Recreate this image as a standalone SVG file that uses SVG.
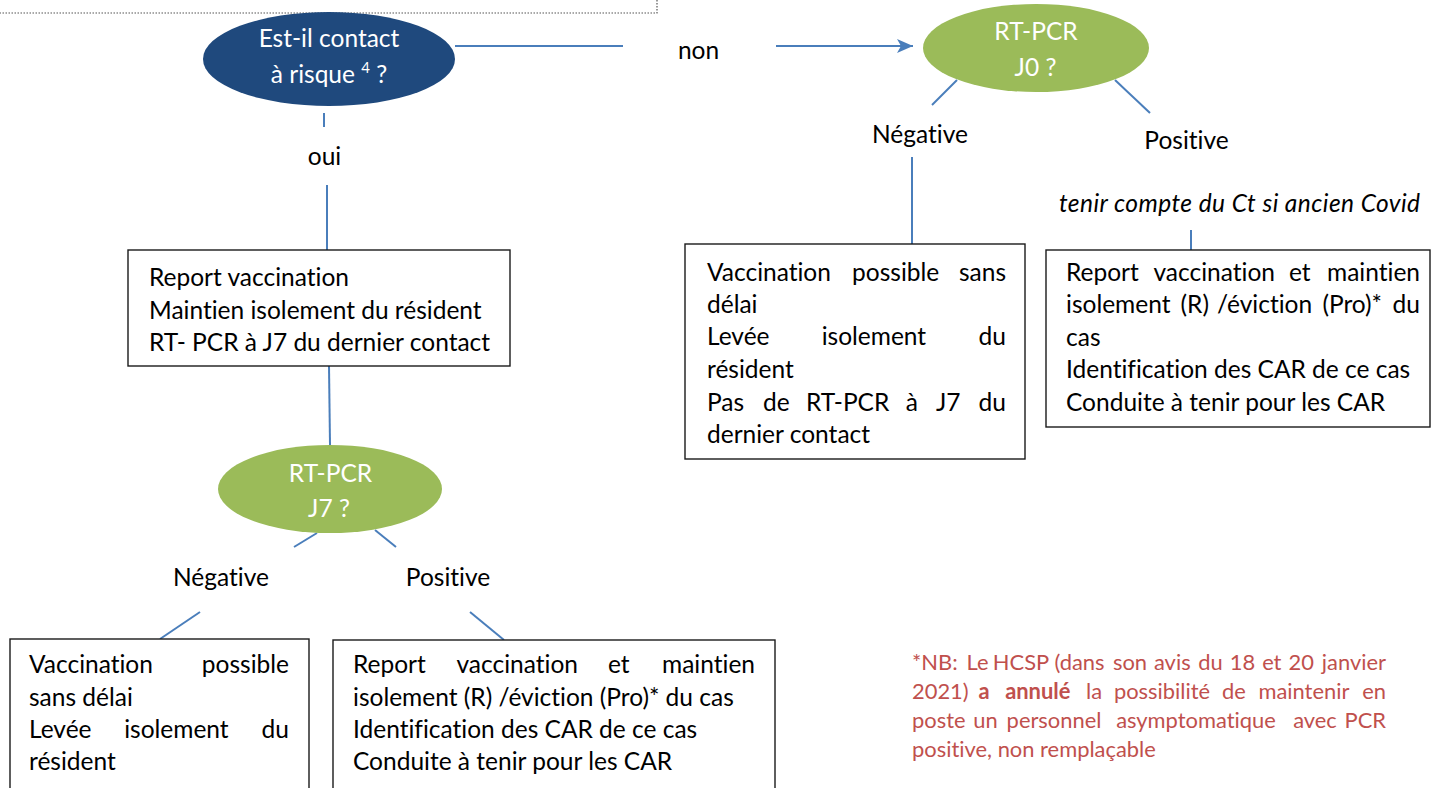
<svg xmlns="http://www.w3.org/2000/svg" width="1431" height="788" viewBox="0 0 1431 788">
<style>
.t{font-family:Lato,"Liberation Sans",sans-serif;font-size:24.5px;fill:#000;font-variant-ligatures:none}
.w{font-family:Lato,"Liberation Sans",sans-serif;font-size:24.5px;fill:#fff;text-anchor:middle}
.c{text-anchor:middle}
.m{text-anchor:middle}
.e{text-anchor:end}
.it{font-style:italic}
.box{fill:#fff;stroke:#1a1a1a;stroke-width:1.4}
.ln{stroke:#4a7ebb;stroke-width:2;fill:none}
.note{font-family:Lato,"Liberation Sans",sans-serif;font-size:21.9px;fill:#c0504d;font-variant-ligatures:none}
.b{font-weight:bold}
</style>
<defs>
<marker id="arr" markerUnits="userSpaceOnUse" markerWidth="18" markerHeight="16" refX="16" refY="7" orient="auto">
<path d="M0,0 L16,7 L0,14 L4,7 Z" fill="#4a7ebb"/>
</marker>
</defs>
<rect width="1431" height="788" fill="#fff"/>

<g id="topframe">
<rect x="-5" y="-40" width="662" height="53" fill="none" stroke="#555" stroke-width="1.2" stroke-dasharray="1.5,1.5"/>
</g>

<g id="connectors">
<line class="ln" x1="455" y1="46" x2="623" y2="46"/>
<line class="ln" x1="776" y1="46" x2="913" y2="46" marker-end="url(#arr)"/>
<line class="ln" x1="324" y1="113" x2="324" y2="127"/>
<line class="ln" x1="327" y1="185" x2="327" y2="250"/>
<line class="ln" x1="329" y1="366" x2="330" y2="445"/>
<line class="ln" x1="317" y1="533" x2="294" y2="547"/>
<line class="ln" x1="375" y1="530" x2="396" y2="547"/>
<line class="ln" x1="200" y1="612" x2="160" y2="639"/>
<line class="ln" x1="470" y1="612" x2="504" y2="640"/>
<line class="ln" x1="957" y1="80" x2="932" y2="105"/>
<line class="ln" x1="1115" y1="80" x2="1150" y2="113"/>
<line class="ln" x1="912" y1="157" x2="912" y2="244"/>
<line class="ln" x1="1191" y1="230" x2="1191" y2="250"/>
</g>

<g id="labels">
<text class="t c" x="324.5" y="165">oui</text>
<text class="t c" x="698.5" y="59">non</text>
<text class="t c" x="920" y="143">Négative</text>
<text class="t c" x="1186.5" y="149">Positive</text>
<text class="t it" x="1059" y="212" textLength="361" lengthAdjust="spacing">tenir compte du Ct si ancien Covid</text>
<text class="t c" x="221" y="586">Négative</text>
<text class="t c" x="448" y="586">Positive</text>
</g>

<g id="q-contact">
<ellipse cx="329" cy="59" rx="126" ry="47" fill="#1f497d"/>
<text class="w" x="329" y="47">Est-il contact</text>
<text class="w" x="329" y="83">à risque <tspan font-size="15" dy="-10">4</tspan><tspan dy="10"> ?</tspan></text>
</g>

<g id="q-j0">
<ellipse cx="1036" cy="48" rx="113" ry="44" fill="#9bbb59"/>
<text class="w" x="1036" y="40">RT-PCR</text>
<text class="w" x="1035.5" y="76">J0 ?</text>
</g>

<g id="q-j7">
<ellipse cx="330" cy="489" rx="112" ry="44" fill="#9bbb59"/>
<text class="w" x="330.5" y="482">RT-PCR</text>
<text class="w" x="329" y="517">J7 ?</text>
</g>

<g id="box-report">
<rect class="box" x="128" y="250" width="382" height="116"/>
<text class="t" x="149" y="286">Report vaccination</text>
<text class="t" x="149" y="319">Maintien isolement du résident</text>
<text class="t" x="149" y="351">RT- PCR à J7 du dernier contact</text>
</g>

<g id="box-j0-neg">
<rect class="box" x="685" y="244" width="340" height="215"/>
<text class="t" y="281"><tspan x="707">Vaccination</tspan><tspan class="m" x="895.7">possible</tspan><tspan class="e" x="1006">sans</tspan></text>
<text class="t" x="707" y="313">délai</text>
<text class="t" y="345"><tspan x="707">Levée</tspan><tspan class="m" x="873.9">isolement</tspan><tspan class="e" x="1006">du</tspan></text>
<text class="t" x="707" y="378">résident</text>
<text class="t" y="411"><tspan x="707">Pas</tspan><tspan class="m" x="776.4">de</tspan><tspan class="m" x="847.7">RT-PCR</tspan><tspan class="m" x="911.9">à</tspan><tspan class="m" x="948.2">J7</tspan><tspan class="e" x="1006">du</tspan></text>
<text class="t" x="707" y="443">dernier contact</text>
</g>

<g id="box-j0-pos">
<rect class="box" x="1046" y="250" width="384" height="177"/>
<text class="t" y="281"><tspan x="1066">Report</tspan><tspan class="m" x="1214.2">vaccination</tspan><tspan class="m" x="1299.8">et</tspan><tspan class="e" x="1420">maintien</tspan></text>
<text class="t" y="313"><tspan x="1066">isolement</tspan><tspan class="m" x="1194.8">(R)</tspan><tspan class="m" x="1264.6">/éviction</tspan><tspan class="m" x="1352.2">(Pro)*</tspan><tspan class="e" x="1420">du</tspan></text>
<text class="t" x="1066" y="346">cas</text>
<text class="t" x="1066" y="378">Identification des CAR de ce cas</text>
<text class="t" x="1066" y="411">Conduite à tenir pour les CAR</text>
</g>

<g id="box-j7-neg">
<rect class="box" x="10" y="639" width="299" height="170"/>
<text class="t" y="673"><tspan x="29">Vaccination</tspan><tspan class="e" x="289">possible</tspan></text>
<text class="t" x="29" y="706">sans délai</text>
<text class="t" y="738"><tspan x="29">Levée</tspan><tspan class="m" x="176.4">isolement</tspan><tspan class="e" x="289">du</tspan></text>
<text class="t" x="29" y="770">résident</text>
</g>

<g id="box-j7-pos">
<rect class="box" x="333" y="640" width="442" height="170"/>
<text class="t" y="673"><tspan x="353">Report</tspan><tspan class="m" x="517.2">vaccination</tspan><tspan class="m" x="618.8">et</tspan><tspan class="e" x="755">maintien</tspan></text>
<text class="t" x="353" y="706">isolement (R) /éviction (Pro)* du cas</text>
<text class="t" x="353" y="738">Identification des CAR de ce cas</text>
<text class="t" x="353" y="770">Conduite à tenir pour les CAR</text>
</g>

<g id="note">
<text class="note" y="670"><tspan x="912">*NB:</tspan><tspan class="m" x="977.5">Le</tspan><tspan class="m" x="1021">HCSP</tspan><tspan class="m" x="1079.5">(dans</tspan><tspan class="m" x="1130">son</tspan><tspan class="m" x="1172.3">avis</tspan><tspan class="m" x="1210.5">du</tspan><tspan class="m" x="1242.4">18</tspan><tspan class="m" x="1271.8">et</tspan><tspan class="m" x="1301.2">20</tspan><tspan class="e" x="1386">janvier</tspan></text>
<text class="note" y="699"><tspan x="912">2021)</tspan><tspan class="m b" x="984.1">a</tspan><tspan class="m b" x="1037.8">annulé</tspan><tspan class="m" x="1094">la</tspan><tspan class="m" x="1162">possibilité</tspan><tspan class="m" x="1233.8">de</tspan><tspan class="m" x="1303.9">maintenir</tspan><tspan class="e" x="1386">en</tspan></text>
<text class="note" y="728"><tspan x="912">poste</tspan><tspan class="m" x="985.5">un</tspan><tspan class="m" x="1054">personnel</tspan><tspan class="m" x="1196">asymptomatique</tspan><tspan class="m" x="1315">avec</tspan><tspan class="e" x="1386">PCR</tspan></text>
<text class="note" x="912" y="757">positive, non remplaçable</text>
</g>
</svg>
